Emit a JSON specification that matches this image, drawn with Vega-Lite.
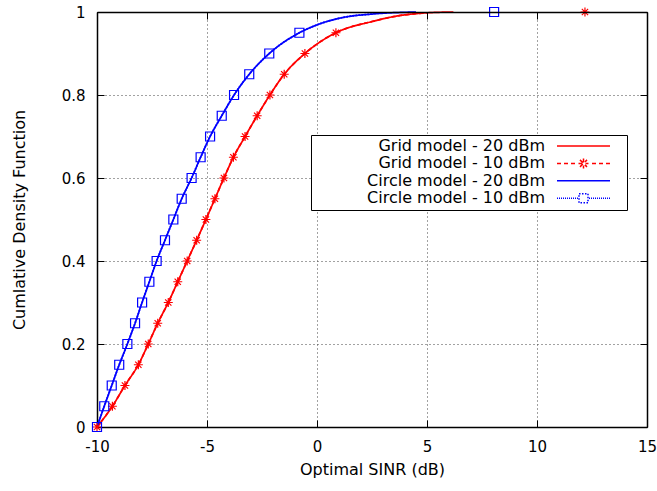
{
  "$schema": "https://vega.github.io/schema/vega-lite/v6.json",
  "width": 550,
  "height": 415,
  "autosize": {"type": "none"},
  "padding": {"left": 97, "top": 12, "right": 10, "bottom": 64},
  "background": "white",
  "config": {
    "view": {"stroke": null},
    "font": "DejaVu Sans",
    "axis": {
      "tickColor": "black",
      "tickWidth": 1,
      "labelColor": "black",
      "titleColor": "black",
      "labelFont": "DejaVu Sans",
      "titleFont": "DejaVu Sans",
      "labelFontSize": 15,
      "titleFontSize": 16,
      "titleFontWeight": "normal",
      "domain": true,
      "domainColor": "black",
      "domainWidth": 1.5
    }
  },
  "datasets": {
    "curves": [
      {"series": "Grid model - 20 dBm", "x": -10, "y": 0},
      {"series": "Grid model - 20 dBm", "x": -9.30, "y": 0.05},
      {"series": "Grid model - 20 dBm", "x": -8.73, "y": 0.10},
      {"series": "Grid model - 20 dBm", "x": -8.12, "y": 0.15},
      {"series": "Grid model - 20 dBm", "x": -7.67, "y": 0.20},
      {"series": "Grid model - 20 dBm", "x": -7.24, "y": 0.25},
      {"series": "Grid model - 20 dBm", "x": -6.76, "y": 0.30},
      {"series": "Grid model - 20 dBm", "x": -6.33, "y": 0.35},
      {"series": "Grid model - 20 dBm", "x": -5.90, "y": 0.40},
      {"series": "Grid model - 20 dBm", "x": -5.47, "y": 0.45},
      {"series": "Grid model - 20 dBm", "x": -5.05, "y": 0.50},
      {"series": "Grid model - 20 dBm", "x": -4.64, "y": 0.55},
      {"series": "Grid model - 20 dBm", "x": -4.23, "y": 0.60},
      {"series": "Grid model - 20 dBm", "x": -3.80, "y": 0.65},
      {"series": "Grid model - 20 dBm", "x": -3.27, "y": 0.70},
      {"series": "Grid model - 20 dBm", "x": -2.72, "y": 0.75},
      {"series": "Grid model - 20 dBm", "x": -2.14, "y": 0.80},
      {"series": "Grid model - 20 dBm", "x": -1.49, "y": 0.85},
      {"series": "Grid model - 20 dBm", "x": -0.55, "y": 0.90},
      {"series": "Grid model - 20 dBm", "x": 0.86, "y": 0.95},
      {"series": "Grid model - 20 dBm", "x": 2.5, "y": 0.977},
      {"series": "Grid model - 20 dBm", "x": 3.6, "y": 0.99},
      {"series": "Grid model - 20 dBm", "x": 5.0, "y": 0.998},
      {"series": "Grid model - 20 dBm", "x": 6.2, "y": 1.0},
      {"series": "Grid model - 10 dBm", "x": -10, "y": 0},
      {"series": "Grid model - 10 dBm", "x": -9.30, "y": 0.05},
      {"series": "Grid model - 10 dBm", "x": -8.73, "y": 0.10},
      {"series": "Grid model - 10 dBm", "x": -8.12, "y": 0.15},
      {"series": "Grid model - 10 dBm", "x": -7.67, "y": 0.20},
      {"series": "Grid model - 10 dBm", "x": -7.24, "y": 0.25},
      {"series": "Grid model - 10 dBm", "x": -6.76, "y": 0.30},
      {"series": "Grid model - 10 dBm", "x": -6.33, "y": 0.35},
      {"series": "Grid model - 10 dBm", "x": -5.90, "y": 0.40},
      {"series": "Grid model - 10 dBm", "x": -5.47, "y": 0.45},
      {"series": "Grid model - 10 dBm", "x": -5.05, "y": 0.50},
      {"series": "Grid model - 10 dBm", "x": -4.64, "y": 0.55},
      {"series": "Grid model - 10 dBm", "x": -4.23, "y": 0.60},
      {"series": "Grid model - 10 dBm", "x": -3.80, "y": 0.65},
      {"series": "Grid model - 10 dBm", "x": -3.27, "y": 0.70},
      {"series": "Grid model - 10 dBm", "x": -2.72, "y": 0.75},
      {"series": "Grid model - 10 dBm", "x": -2.14, "y": 0.80},
      {"series": "Grid model - 10 dBm", "x": -1.49, "y": 0.85},
      {"series": "Grid model - 10 dBm", "x": -0.55, "y": 0.90},
      {"series": "Grid model - 10 dBm", "x": 0.86, "y": 0.95},
      {"series": "Grid model - 10 dBm", "x": 2.5, "y": 0.977},
      {"series": "Grid model - 10 dBm", "x": 3.6, "y": 0.99},
      {"series": "Grid model - 10 dBm", "x": 5.0, "y": 0.998},
      {"series": "Circle model - 20 dBm", "x": -10, "y": 0},
      {"series": "Circle model - 20 dBm", "x": -9.67, "y": 0.05},
      {"series": "Circle model - 20 dBm", "x": -9.33, "y": 0.10},
      {"series": "Circle model - 20 dBm", "x": -8.99, "y": 0.15},
      {"series": "Circle model - 20 dBm", "x": -8.62, "y": 0.20},
      {"series": "Circle model - 20 dBm", "x": -8.27, "y": 0.25},
      {"series": "Circle model - 20 dBm", "x": -7.95, "y": 0.30},
      {"series": "Circle model - 20 dBm", "x": -7.62, "y": 0.35},
      {"series": "Circle model - 20 dBm", "x": -7.29, "y": 0.40},
      {"series": "Circle model - 20 dBm", "x": -6.91, "y": 0.45},
      {"series": "Circle model - 20 dBm", "x": -6.53, "y": 0.50},
      {"series": "Circle model - 20 dBm", "x": -6.15, "y": 0.55},
      {"series": "Circle model - 20 dBm", "x": -5.70, "y": 0.60},
      {"series": "Circle model - 20 dBm", "x": -5.29, "y": 0.65},
      {"series": "Circle model - 20 dBm", "x": -4.86, "y": 0.70},
      {"series": "Circle model - 20 dBm", "x": -4.33, "y": 0.75},
      {"series": "Circle model - 20 dBm", "x": -3.77, "y": 0.80},
      {"series": "Circle model - 20 dBm", "x": -3.08, "y": 0.85},
      {"series": "Circle model - 20 dBm", "x": -2.17, "y": 0.90},
      {"series": "Circle model - 20 dBm", "x": -0.80, "y": 0.95},
      {"series": "Circle model - 20 dBm", "x": 0.05, "y": 0.97},
      {"series": "Circle model - 20 dBm", "x": 1.2, "y": 0.987},
      {"series": "Circle model - 20 dBm", "x": 2.5, "y": 0.995},
      {"series": "Circle model - 20 dBm", "x": 4.5, "y": 1.0},
      {"series": "Circle model - 10 dBm", "x": -10, "y": 0},
      {"series": "Circle model - 10 dBm", "x": -9.67, "y": 0.05},
      {"series": "Circle model - 10 dBm", "x": -9.33, "y": 0.10},
      {"series": "Circle model - 10 dBm", "x": -8.99, "y": 0.15},
      {"series": "Circle model - 10 dBm", "x": -8.62, "y": 0.20},
      {"series": "Circle model - 10 dBm", "x": -8.27, "y": 0.25},
      {"series": "Circle model - 10 dBm", "x": -7.95, "y": 0.30},
      {"series": "Circle model - 10 dBm", "x": -7.62, "y": 0.35},
      {"series": "Circle model - 10 dBm", "x": -7.29, "y": 0.40},
      {"series": "Circle model - 10 dBm", "x": -6.91, "y": 0.45},
      {"series": "Circle model - 10 dBm", "x": -6.53, "y": 0.50},
      {"series": "Circle model - 10 dBm", "x": -6.15, "y": 0.55},
      {"series": "Circle model - 10 dBm", "x": -5.70, "y": 0.60},
      {"series": "Circle model - 10 dBm", "x": -5.29, "y": 0.65},
      {"series": "Circle model - 10 dBm", "x": -4.86, "y": 0.70},
      {"series": "Circle model - 10 dBm", "x": -4.33, "y": 0.75},
      {"series": "Circle model - 10 dBm", "x": -3.77, "y": 0.80},
      {"series": "Circle model - 10 dBm", "x": -3.08, "y": 0.85},
      {"series": "Circle model - 10 dBm", "x": -2.17, "y": 0.90},
      {"series": "Circle model - 10 dBm", "x": -0.80, "y": 0.95},
      {"series": "Circle model - 10 dBm", "x": 0.05, "y": 0.97},
      {"series": "Circle model - 10 dBm", "x": 1.2, "y": 0.987},
      {"series": "Circle model - 10 dBm", "x": 2.5, "y": 0.995}
    ],
    "markers": [
      {"series": "Grid model - 10 dBm", "x": -10, "y": 0},
      {"series": "Grid model - 10 dBm", "x": -9.30, "y": 0.05},
      {"series": "Grid model - 10 dBm", "x": -8.73, "y": 0.10},
      {"series": "Grid model - 10 dBm", "x": -8.12, "y": 0.15},
      {"series": "Grid model - 10 dBm", "x": -7.67, "y": 0.20},
      {"series": "Grid model - 10 dBm", "x": -7.24, "y": 0.25},
      {"series": "Grid model - 10 dBm", "x": -6.76, "y": 0.30},
      {"series": "Grid model - 10 dBm", "x": -6.33, "y": 0.35},
      {"series": "Grid model - 10 dBm", "x": -5.90, "y": 0.40},
      {"series": "Grid model - 10 dBm", "x": -5.47, "y": 0.45},
      {"series": "Grid model - 10 dBm", "x": -5.05, "y": 0.50},
      {"series": "Grid model - 10 dBm", "x": -4.64, "y": 0.55},
      {"series": "Grid model - 10 dBm", "x": -4.23, "y": 0.60},
      {"series": "Grid model - 10 dBm", "x": -3.80, "y": 0.65},
      {"series": "Grid model - 10 dBm", "x": -3.27, "y": 0.70},
      {"series": "Grid model - 10 dBm", "x": -2.72, "y": 0.75},
      {"series": "Grid model - 10 dBm", "x": -2.14, "y": 0.80},
      {"series": "Grid model - 10 dBm", "x": -1.49, "y": 0.85},
      {"series": "Grid model - 10 dBm", "x": -0.55, "y": 0.90},
      {"series": "Grid model - 10 dBm", "x": 0.86, "y": 0.95},
      {"series": "Grid model - 10 dBm", "x": 12.18, "y": 1.0},
      {"series": "Circle model - 10 dBm", "x": -10, "y": 0},
      {"series": "Circle model - 10 dBm", "x": -9.67, "y": 0.05},
      {"series": "Circle model - 10 dBm", "x": -9.33, "y": 0.10},
      {"series": "Circle model - 10 dBm", "x": -8.99, "y": 0.15},
      {"series": "Circle model - 10 dBm", "x": -8.62, "y": 0.20},
      {"series": "Circle model - 10 dBm", "x": -8.27, "y": 0.25},
      {"series": "Circle model - 10 dBm", "x": -7.95, "y": 0.30},
      {"series": "Circle model - 10 dBm", "x": -7.62, "y": 0.35},
      {"series": "Circle model - 10 dBm", "x": -7.29, "y": 0.40},
      {"series": "Circle model - 10 dBm", "x": -6.91, "y": 0.45},
      {"series": "Circle model - 10 dBm", "x": -6.53, "y": 0.50},
      {"series": "Circle model - 10 dBm", "x": -6.15, "y": 0.55},
      {"series": "Circle model - 10 dBm", "x": -5.70, "y": 0.60},
      {"series": "Circle model - 10 dBm", "x": -5.29, "y": 0.65},
      {"series": "Circle model - 10 dBm", "x": -4.86, "y": 0.70},
      {"series": "Circle model - 10 dBm", "x": -4.33, "y": 0.75},
      {"series": "Circle model - 10 dBm", "x": -3.77, "y": 0.80},
      {"series": "Circle model - 10 dBm", "x": -3.08, "y": 0.85},
      {"series": "Circle model - 10 dBm", "x": -2.17, "y": 0.90},
      {"series": "Circle model - 10 dBm", "x": -0.80, "y": 0.95},
      {"series": "Circle model - 10 dBm", "x": 8.05, "y": 1.0}
    ]
  },
  "layer": [
    {
      "data": {"name": "curves"},
      "mark": {"type": "line", "interpolate": "monotone", "strokeWidth": 1.7},
      "encoding": {
        "x": {
          "field": "x", "type": "quantitative",
          "scale": {"domain": [-10, 15], "nice": false, "zero": false},
          "axis": {
            "orient": "bottom",
            "values": [-10, -5, 0, 5, 10, 15],
            "labelExpr": "'' + datum.value",
            "grid": true, "gridDash": [1, 3], "gridColor": "#444", "gridWidth": 1,
            "tickSize": -7,
            "labelPadding": 19,
            "labelFlush": false,
            "title": "Optimal SINR (dB)",
            "titlePadding": 7
          }
        },
        "y": {
          "field": "y", "type": "quantitative",
          "scale": {"domain": [0, 1], "nice": false, "zero": false},
          "axis": {
            "orient": "left",
            "values": [0, 0.2, 0.4, 0.6, 0.8, 1],
            "format": "~g",
            "grid": true, "gridDash": [1, 3], "gridColor": "#444", "gridWidth": 1,
            "tickSize": -7,
            "labelPadding": 19,
            "labelFlush": false,
            "title": "Cumlative Density Function",
            "titlePadding": 34
          }
        },
        "color": {
          "field": "series", "type": "nominal",
          "scale": {
            "domain": ["Grid model - 20 dBm", "Grid model - 10 dBm", "Circle model - 20 dBm", "Circle model - 10 dBm"],
            "range": ["#ff0000", "#ff0000", "#0000ff", "#0000ff"]
          },
          "legend": {
            "orient": "none",
            "legendX": 214,
            "legendY": 123,
            "title": null,
            "direction": "vertical",
            "symbolSize": 100,
            "symbolStrokeWidth": 1.7,
            "labelFont": "DejaVu Sans",
            "labelFontSize": 16,
            "labelColor": "black",
            "labelAlign": "right",
            "labelLimit": 400,
            "labelOffset": -46.5,
            "symbolOffset": 261.5,
            "rowPadding": 1.4,
            "padding": 3,
            "strokeColor": "black",
            "fillColor": "white",
            "cornerRadius": 0,
            "encode": {
              "symbols": {
                "update": {
                  "shape": {"signal": "datum.value === 'Grid model - 10 dBm' ? 'M-5.3,0L-4.5,0M-3.9,0L-3.1,0M-2.5,0L-1.7,0M1.7,0L2.5,0M3.1,0L3.9,0M4.5,0L5.3,0M-1,0L1,0M0,-1L0,1M-0.7,-0.7L0.7,0.7M-0.7,0.7L0.7,-0.7M7.5,0' : datum.value === 'Circle model - 10 dBm' ? 'M-5.3,0L-5.1,0M-4.9,0L-4.7,0M-4.5,0L-4.3,0M-4.1,0L-3.9,0M-3.7,0L-3.5,0M-3.3,0L-3.1,0M-2.9,0L-2.7,0M-2.5,0L-2.3,0M-2.1,0L-1.9,0M-1.7,0L-1.5,0M-1.3,0L-1.1,0M1.1,0L1.3,0M1.5,0L1.7,0M1.9,0L2.1,0M2.3,0L2.5,0M2.7,0L2.9,0M3.1,0L3.3,0M3.5,0L3.7,0M3.9,0L4.1,0M4.3,0L4.5,0M4.7,0L4.9,0M5.1,0L5.3,0M-0.9,-0.9L0.9,-0.9L0.9,0.9L-0.9,0.9Z M7.5,0' : 'M-5.3,0L5.3,0M7.5,0'"},
                  "strokeDash": {"value": [1, 0]},
                  "fill": {"value": "transparent"},
                  "strokeWidth": {"value": 1.5}
                }
              }
            }
          }
        },
        "strokeDash": {
          "field": "series", "type": "nominal",
          "scale": {
            "domain": ["Grid model - 20 dBm", "Grid model - 10 dBm", "Circle model - 20 dBm", "Circle model - 10 dBm"],
            "range": [[1, 0], [4, 3], [1, 0], [1.5, 1.5]]
          }
        }
      }
    },
    {
      "data": {"name": "markers"},
      "mark": {"type": "point", "filled": false, "strokeWidth": 1.2, "size": 81, "opacity": 1},
      "encoding": {
        "x": {
          "field": "x", "type": "quantitative",
          "scale": {"domain": [-10, 15], "nice": false, "zero": false},
          "axis": {
            "orient": "top", "values": [-10, -5, 0, 5, 10, 15],
            "labels": false, "title": null, "grid": false,
            "tickSize": -7, "zindex": 1
          }
        },
        "y": {
          "field": "y", "type": "quantitative",
          "scale": {"domain": [0, 1], "nice": false, "zero": false},
          "axis": {
            "orient": "right", "values": [0, 0.2, 0.4, 0.6, 0.8, 1],
            "labels": false, "title": null, "grid": false,
            "tickSize": -7, "zindex": 1
          }
        },
        "stroke": {
          "field": "series", "type": "nominal",
          "scale": {"domain": ["Grid model - 10 dBm", "Circle model - 10 dBm"], "range": ["#ff0000", "#0000ff"]},
          "legend": null
        },
        "shape": {
          "field": "series", "type": "nominal",
          "scale": {"domain": ["Grid model - 10 dBm", "Circle model - 10 dBm"], "range": ["M-1,0L1,0M0,-1L0,1M-0.7,-0.7L0.7,0.7M-0.7,0.7L0.7,-0.7", "square"]},
          "legend": null
        }
      }
    }
  ],
  "resolve": {"axis": {"x": "independent", "y": "independent"}}
}
